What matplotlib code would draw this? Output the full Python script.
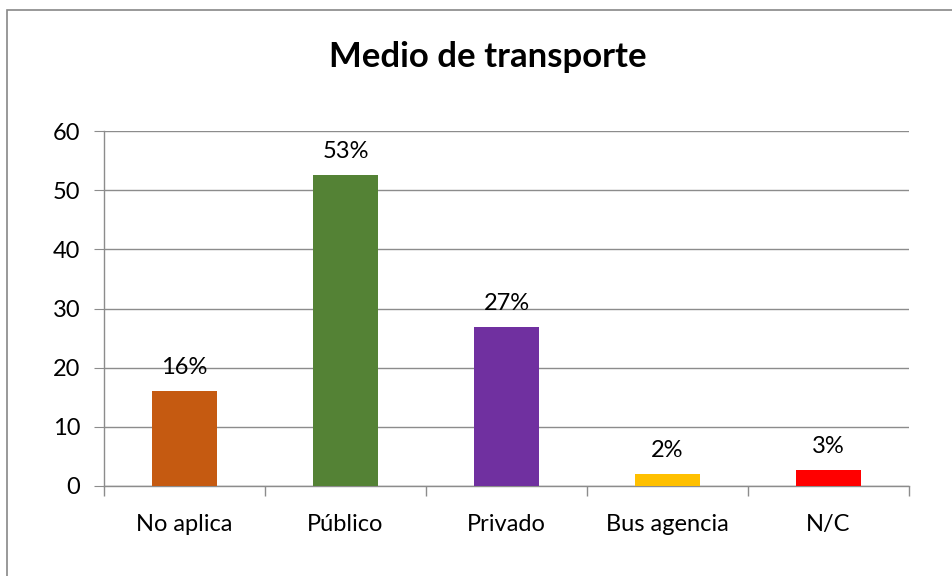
import matplotlib
matplotlib.use("Agg")
import matplotlib.pyplot as plt
from matplotlib.patches import Rectangle

categories = ["No aplica", "Público", "Privado", "Bus agencia", "N/C"]
values = [16.05, 52.6, 26.9, 2.03, 2.7]
labels = ["16%", "53%", "27%", "2%", "3%"]
colors = ["#C55A11", "#548235", "#7030A0", "#FFC000", "#FF0000"]
yticks = [0, 10, 20, 30, 40, 50, 60]

plt.rcParams['font.family'] = ['Lato', 'DejaVu Sans']

W, H = 952, 576
fig = plt.figure(figsize=(W/100, H/100), dpi=100)
# outer chart border (right and bottom edges fall outside the image)
fig.patches.append(Rectangle((7/W, -0.05), 1.2, 1.05 - 10/H, transform=fig.transFigure,
                             fill=False, edgecolor="#888888", linewidth=1.2))

ax = fig.add_axes([104/W, 1 - 486/H, (909-104)/W, (486-131)/H])
x = list(range(len(categories)))
ax.bar(x, values, width=0.40, color=colors, zorder=3)
for xi, v, lab in zip(x, values, labels):
    ax.text(xi, v + 2.2, lab, ha="center", va="bottom", fontsize=17)

ax.set_xlim(-0.5, len(categories) - 0.5)
ax.set_ylim(0, 60)
ax.set_yticks(yticks)
ax.set_yticklabels([str(t) for t in yticks], fontsize=17)
ax.yaxis.grid(True, color="#8c8c8c", linewidth=1.0, zorder=0)
ax.set_axisbelow(True)
ax.set_xticks(x)
ax.set_xticklabels(categories, fontsize=17)
ax.tick_params(axis="x", length=0, pad=20)
ax.tick_params(axis="y", length=7, color="#8c8c8c", pad=10)
# category boundary ticks
ax.set_xticks([i - 0.5 for i in range(len(categories) + 1)], minor=True)
ax.tick_params(axis="x", which="minor", length=7, color="#8c8c8c", width=1.0)
for s in ["top", "right"]:
    ax.spines[s].set_visible(False)
for s in ["left", "bottom"]:
    ax.spines[s].set_color("#8c8c8c")
    ax.spines[s].set_linewidth(1.0)

fig.text(488/W, 1 - 57/H, "Medio de transporte", ha="center", va="center",
         fontsize=25, fontweight="bold")

fig.savefig("out.png", dpi=100)
